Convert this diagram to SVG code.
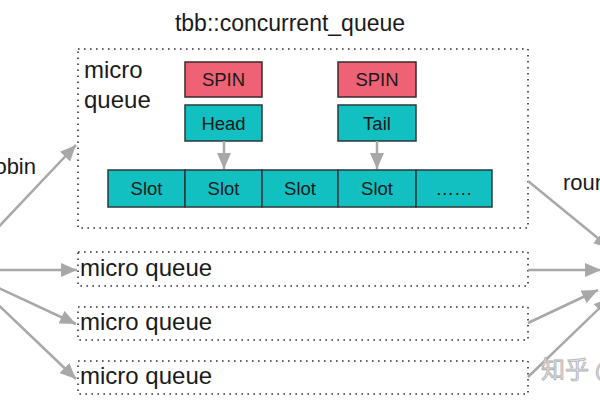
<svg xmlns="http://www.w3.org/2000/svg" width="600" height="400" viewBox="0 0 600 400">
<style>
text{font-family:"Liberation Sans",Arial,Helvetica,sans-serif;fill:#1a1a1a}
.lbl{font-size:24px}
.box{font-size:18.5px;text-anchor:middle}
.dot{fill:none;stroke:#333;stroke-width:1.6;stroke-dasharray:1.6 4.4}
.teal{fill:#12bfc1;stroke:#2a3a3a;stroke-width:1.5}
.spin{fill:#ef6174;stroke:#3a2a2a;stroke-width:1.5}
.arr{fill:none;stroke:#a8a8a8;stroke-width:2.5;marker-end:url(#ah)}
.wm{font-family:"Noto Sans CJK SC",sans-serif;font-size:24px;fill:#e6e6e6;stroke:#b0b0b0;stroke-width:0.8}
</style>
<defs>
<marker id="ah" markerUnits="userSpaceOnUse" markerWidth="18" markerHeight="14" refX="16" refY="7" orient="auto">
<path d="M0,0 L16,7 L0,14 z" fill="#a8a8a8"/>
</marker>
</defs>
<rect width="600" height="400" fill="#fff"/>
<text x="290" y="31" font-size="23" text-anchor="middle">tbb::concurrent_queue</text>
<g id="mq0">
<rect class="dot" x="78" y="49" width="450" height="179"/>
<text class="lbl" x="84" y="78">micro</text>
<text class="lbl" x="84" y="108">queue</text>
</g>
<g id="spin1"><rect class="spin" x="185" y="62" width="77" height="35"/><text class="box" x="223.5" y="86">SPIN</text></g>
<g id="head"><rect class="teal" x="185" y="105" width="77" height="36"/><text class="box" x="223.5" y="130">Head</text></g>
<g id="spin2"><rect class="spin" x="338" y="62" width="78" height="35"/><text class="box" x="377" y="86">SPIN</text></g>
<g id="tail"><rect class="teal" x="338" y="105" width="78" height="36"/><text class="box" x="377" y="130">Tail</text></g>
<g id="slots">
<rect class="teal" x="108" y="170" width="77" height="37"/><text class="box" x="146.5" y="195">Slot</text>
<rect class="teal" x="185" y="170" width="77" height="37"/><text class="box" x="223.5" y="195">Slot</text>
<rect class="teal" x="262" y="170" width="76" height="37"/><text class="box" x="300" y="195">Slot</text>
<rect class="teal" x="338" y="170" width="78" height="37"/><text class="box" x="377" y="195">Slot</text>
<rect class="teal" x="416" y="170" width="76" height="37"/><text class="box" x="454" y="195">……</text>
</g>
<g id="mq1"><rect class="dot" x="78" y="252" width="450" height="34"/><text class="lbl" x="80" y="276">micro queue</text></g>
<g id="mq2"><rect class="dot" x="78" y="307" width="450" height="33"/><text class="lbl" x="80" y="330">micro queue</text></g>
<g id="mq3"><rect class="dot" x="78" y="361" width="450" height="33"/><text class="lbl" x="80" y="384">micro queue</text></g>
<text class="lbl" x="36" y="174" font-size="22" text-anchor="end" style="font-size:22px">round robin</text>
<text class="lbl" x="563" y="190" style="font-size:22px">round robin</text>
<g id="connectors">
<line class="arr" x1="224" y1="141" x2="224" y2="169"/>
<line class="arr" x1="377" y1="141" x2="377" y2="169"/>
<line class="arr" x1="-10" y1="236" x2="76" y2="145"/>
<line class="arr" x1="-10" y1="270" x2="77" y2="270"/>
<line class="arr" x1="-10" y1="284" x2="76" y2="324"/>
<line class="arr" x1="-10" y1="297" x2="76" y2="379"/>
<line class="arr" x1="528" y1="181" x2="610" y2="248"/>
<line class="arr" x1="528" y1="270" x2="601" y2="270"/>
<line class="arr" x1="528" y1="323" x2="598" y2="290"/>
<line class="arr" x1="528" y1="377" x2="610" y2="298"/>
</g>
<text class="wm" x="541" y="378">知乎</text>
<text class="wm" x="595" y="378">@</text>
</svg>
